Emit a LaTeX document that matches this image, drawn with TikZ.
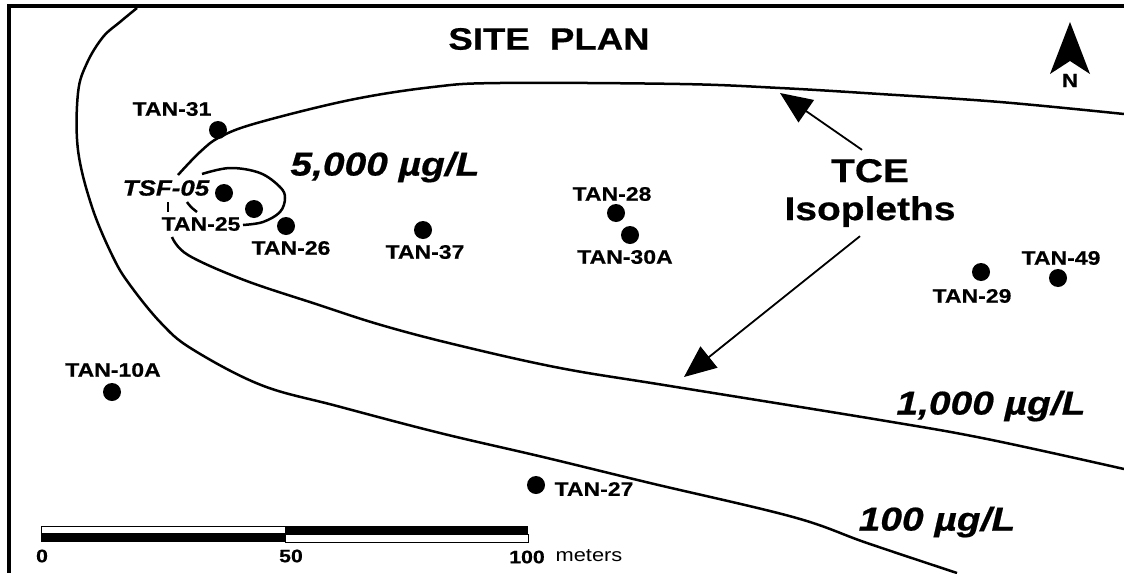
\documentclass[tikz,border=0pt]{standalone}
\usepackage{fontspec}
\usetikzlibrary{arrows.meta}
\newfontfamily\sitefont[FakeStretch=1.18, BoldFeatures={FakeBold=0.6}, BoldItalicFeatures={FakeBold=0.6}]{Liberation Sans}
\tikzset{
	well/.style={circle, fill=black, inner sep=0pt, minimum size=18pt},
	welltag/.style={inner sep=0pt, font=\sitefont\bfseries\fontsize{19.5}{22}\selectfont},
	isotag/.style={inner sep=0pt, font=\sitefont\bfseries\itshape\fontsize{33}{38}\selectfont},
	isoline/.style={line width=2.5pt, smooth, tension=0.6},
	isoarrow/.style={line width=1.8pt, -{Triangle[length=32pt, width=27pt]}},
	scaletag/.style={inner sep=0pt, font=\sitefont\bfseries\fontsize{18}{20}\selectfont}
}

\begin{document}
\begin{tikzpicture}[x=1pt, y=-1pt]
			%%%%% START %%%%%
			\useasboundingbox (0, 0) rectangle (1124, 573);
			
			\fill[black] (7, 4) rectangle (1124, 8);
			\fill[black] (7, 4) rectangle (11, 573);
			
			\node[font=\sitefont\bfseries\fontsize{31}{36}\selectfont, inner sep=0pt] (title) at (549, 39) {SITE\ \ PLAN};
			
			% north arrow
			\fill[black] (1070, 22) -- (1090, 74) -- (1070, 61) -- (1050, 74) -- cycle;
			\node[font=\sitefont\bfseries\fontsize{19}{22}\selectfont, inner sep=0pt] (north) at (1070, 80.5) {N};
			
			% isopleths
			\draw[isoline] plot coordinates {(137, 8) (120, 22) (103, 37) (87, 63) (78, 93) (78, 150) (92, 207) (113, 257) (130, 285) (161, 323) (192, 349) (261, 385) (337, 406) (440, 433) (543, 457) (650, 483) (793, 517) (867, 543) (957, 573)};
			
			\draw[isoline] plot coordinates {(1124, 114) (1000, 102) (880, 94) (780, 88) (680, 84) (500, 83) (433, 87) (350, 100) (257, 123) (220, 137) (200, 152) (178, 175)};
			\draw[isoline] plot coordinates {(172, 237) (188, 255) (244, 280) (316, 304) (381, 325) (457, 345) (560, 368) (670, 386) (880, 420) (987, 439) (1124, 469)};
			\draw[isoline] (168, 202) -- (168, 212);
			
			\draw[isoline] plot coordinates {(202, 174) (230, 168) (260, 173) (280, 187) (285, 198) (280, 212) (263, 222) (243, 225)};
			\draw[isoline] plot coordinates {(187, 202) (191, 207) (197, 212)};
			
			% wells
			\node[well] (tan31) at (218, 130) {};
			\node[well] (tsf05) at (224, 193) {};
			\node[well] (tan25) at (254, 209) {};
			\node[well] (tan26) at (286, 226) {};
			\node[well] (tan37) at (423, 230) {};
			\node[well] (tan28) at (616, 213) {};
			\node[well] (tan30a) at (630, 235) {};
			\node[well] (tan29) at (981, 272) {};
			\node[well] (tan49) at (1058, 278) {};
			\node[well] (tan10a) at (112, 392) {};
			\node[well] (tan27) at (536, 485) {};
			
			\node[welltag] (tag31) at (172, 109) {TAN-31};
			\node[welltag, font=\sitefont\bfseries\itshape\fontsize{22}{25}\selectfont] (tag05) at (166, 188) {TSF-05};
			\node[welltag] (tag25) at (201, 224) {TAN-25};
			\node[welltag] (tag26) at (291, 248) {TAN-26};
			\node[welltag] (tag37) at (425, 252) {TAN-37};
			\node[welltag] (tag28) at (612, 194) {TAN-28};
			\node[welltag] (tag30a) at (625, 257) {TAN-30A};
			\node[welltag] (tag29) at (972, 296) {TAN-29};
			\node[welltag] (tag49) at (1061, 258) {TAN-49};
			\node[welltag] (tag10a) at (113, 370) {TAN-10A};
			\node[welltag] (tag27) at (594, 489) {TAN-27};
			
			\node[isotag] (iso5000) at (385, 167) {5,000 µg/L};
			\node[isotag] (iso1000) at (991, 406) {1,000 µg/L};
			\node[isotag] (iso100) at (937, 522) {100 µg/L};
			
			% arrows
			\node[inner sep=9pt, align=center, font=\sitefont\bfseries\fontsize{33}{38}\selectfont] (isolabel) at (870, 193) {TCE\\Isopleths};
			\coordinate (upperhit) at (780, 93);
			\coordinate (lowerhit) at (684, 377);
			\draw[isoarrow] ([xshift=-8pt]isolabel.north) -- (upperhit);
			\draw[isoarrow] ([xshift=-10pt]isolabel.south) -- (lowerhit);
			
			% scale bar
			\draw[fill=white, line width=1pt] (41, 526) rectangle (285, 533);
			\fill[black] (41, 533) rectangle (285, 542);
			\fill[black] (285, 526) rectangle (528, 534);
			\draw[fill=white, line width=1pt] (285, 534) rectangle (528, 542);
			
			\node[scaletag] (scale0) at (42, 556) {0};
			\node[scaletag] (scale50) at (291, 556) {50};
			\node[scaletag] (scale100) at (527, 557) {100};
			\node[inner sep=0pt, font=\sitefont\fontsize{18.5}{21}\selectfont] (scaleunit) at (589, 556) {meters};
			
			%%%%% END %%%%%
		\end{tikzpicture}
\end{document}
